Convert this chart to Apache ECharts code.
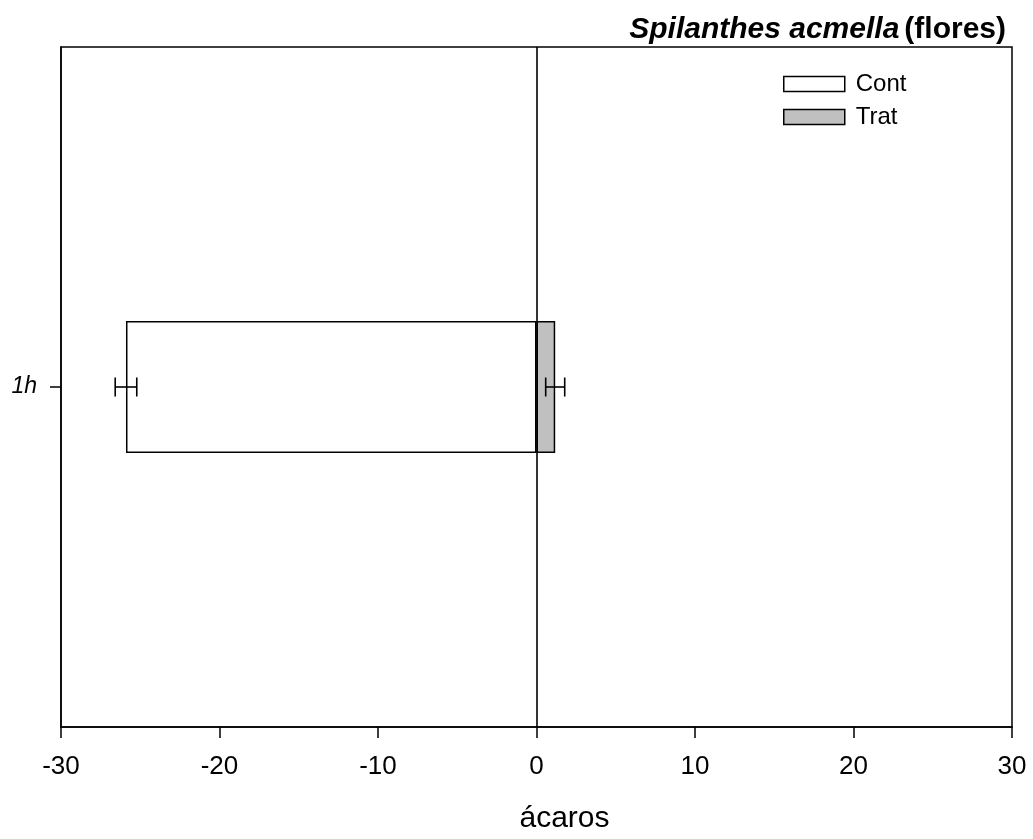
<!DOCTYPE html>
<html><head><meta charset="utf-8">
<script src="https://cdn.jsdelivr.net/npm/echarts@6/dist/echarts.min.js"></script>
<style>html,body{margin:0;padding:0;background:#fff}#c{width:1033px;height:839px}</style>
</head><body><div id="c"></div>
<script>
const categories = ['1h'];
const contValues = [-25.9];
const contErr = [0.68];
const tratValues = [1.18];
const tratErr = [0.6];
const xTicks = [-30, -20, -10, 0, 10, 20, 30];
const annotation = 'Teste t= 27,85; P<0,0001';

const F = 'Liberation Sans, Arial, sans-serif';
const chart = echarts.init(document.getElementById('c'));

function errItem(values, errs) {
  return values.map((v, i) => [i, v, errs[i]]);
}
function renderErr(params, api) {
  const cat = api.value(0), v = api.value(1), e = api.value(2);
  const p1 = api.coord([v - e, cat]);
  const p2 = api.coord([v + e, cat]);
  const h = 9.5;
  const st = { stroke: '#000', lineWidth: 1.6 };
  return {
    type: 'group',
    children: [
      { type: 'line', shape: { x1: p1[0], y1: p1[1], x2: p2[0], y2: p2[1] }, style: st },
      { type: 'line', shape: { x1: p1[0], y1: p1[1] - h, x2: p1[0], y2: p1[1] + h }, style: st },
      { type: 'line', shape: { x1: p2[0], y1: p2[1] - h, x2: p2[0], y2: p2[1] + h }, style: st }
    ]
  };
}

chart.setOption({
  animation: false,
  backgroundColor: '#fff',
  title: {
    text: '{i|Spilanthes acmella} {b|(flores)}',
    right: 22, top: 10,
    textStyle: {
      rich: {
        i: { fontFamily: F, fontSize: 30, fontWeight: 'bold', fontStyle: 'italic', color: '#000' },
        b: { fontFamily: F, fontSize: 30, fontWeight: 'bold', color: '#000' }
      }
    }
  },
  legend: {
    orient: 'vertical',
    left: 778, top: 67,
    icon: 'rect',
    itemWidth: 61, itemHeight: 15, itemGap: 9,
    textStyle: { fontFamily: F, fontSize: 24, color: '#000', padding: [0, 0, 0, 6] },
    data: [
      { name: 'Cont', itemStyle: { color: '#fff', borderColor: '#000', borderWidth: 1.5 } },
      { name: 'Trat', itemStyle: { color: '#c0c0c0', borderColor: '#000', borderWidth: 1.5 } }
    ]
  },
  grid: { left: 61, right: 21, top: 47, bottom: 108, show: true, borderColor: '#000', borderWidth: 1.5, backgroundColor: 'transparent' },
  xAxis: {
    type: 'value', min: -30, max: 30, interval: 10,
    name: 'ácaros', nameLocation: 'middle', nameGap: 77,
    nameTextStyle: { fontFamily: F, fontSize: 30, color: '#000', padding: [0, 0, 0, 56] },
    axisLine: { show: true, onZero: false, lineStyle: { color: '#000', width: 1.5 } },
    axisTick: { show: true, inside: false, length: 11, lineStyle: { color: '#000', width: 1.5 } },
    axisLabel: { fontFamily: F, fontSize: 26, color: '#000', margin: 27, formatter: v => xTicks.includes(v) ? String(v) : '' },
    splitLine: { show: false }
  },
  yAxis: {
    type: 'category', data: categories,
    axisLine: { show: true, onZero: false, lineStyle: { color: '#000', width: 1.5 } },
    axisTick: { show: true, alignWithLabel: true, length: 11, lineStyle: { color: '#000', width: 1.5 } },
    axisLabel: { fontFamily: F, fontSize: 23, fontStyle: 'italic', color: '#000', margin: 24 },
    splitLine: { show: false }
  },
  series: [
    {
      name: 'Cont', type: 'bar', data: contValues, barWidth: 132, barGap: '-100%',
      itemStyle: { color: '#fff', borderColor: '#000', borderWidth: 1.5 },
      markLine: {
        silent: true, symbol: 'none', label: { show: false },
        lineStyle: { color: '#000', width: 1.6, type: 'solid' },
        data: [{ xAxis: 0 }]
      }
    },
    {
      name: 'Trat', type: 'bar', data: tratValues, barWidth: 132,
      itemStyle: { color: '#c0c0c0', borderColor: '#000', borderWidth: 1.5 }
    },
    { type: 'custom', renderItem: renderErr, data: errItem(contValues, contErr), z: 10, encode: { x: 1, y: 0 } },
    { type: 'custom', renderItem: renderErr, data: errItem(tratValues, tratErr), z: 10, encode: { x: 1, y: 0 } }
  ],
  graphic: [
    { type: 'text', left: 207, top: 390, style: { text: annotation, font: '20px ' + F, fill: '#000' } }
  ]
});
</script></body></html>
